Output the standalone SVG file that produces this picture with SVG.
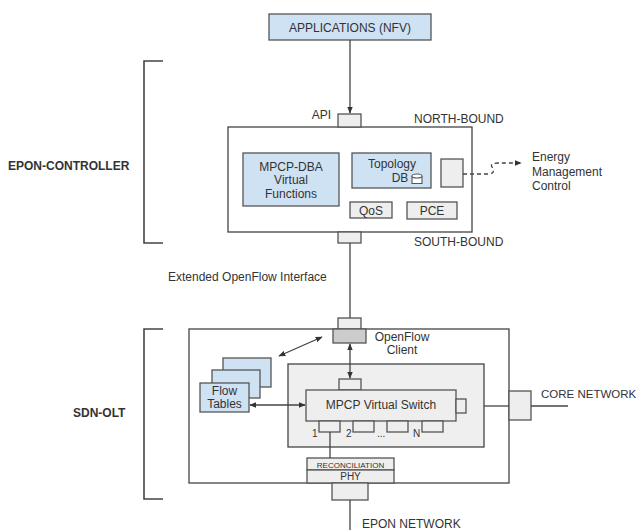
<svg xmlns="http://www.w3.org/2000/svg" width="638" height="530" viewBox="0 0 638 530">
  <defs>
    <marker id="ah" viewBox="0 0 10 10" refX="9" refY="5" markerWidth="7" markerHeight="7" orient="auto-start-reverse" markerUnits="userSpaceOnUse">
      <path d="M0,1 L10,5 L0,9 z" fill="#333"/>
    </marker>
  </defs>
  <style>
    text { font-family: "Liberation Sans", Arial, sans-serif; fill: #333; }
    .t12 { font-size: 12px; }
    .b12 { font-size: 12px; font-weight: bold; }
    .blue { fill: #cfe2f3; stroke: #555; stroke-width: 1.3; }
    .white { fill: #fff; stroke: #444; stroke-width: 1.3; }
    .gray { fill: #eeeeee; stroke: #555; stroke-width: 1.3; }
    .dark { fill: #cccccc; stroke: #555; stroke-width: 1.3; }
    .line { fill: none; stroke: #444; stroke-width: 1.3; }
    .brace { fill: none; stroke: #444; stroke-width: 1.6; }
  </style>
  <rect width="638" height="530" fill="#fff"/>

  <!-- side labels with brackets -->
  <g id="epon-controller-label">
    <path class="brace" d="M163,61 H144 V243 H163"/>
    <text class="b12" x="8" y="170">EPON-CONTROLLER</text>
  </g>
  <g id="sdn-olt-label">
    <path class="brace" d="M163,329 H144 V499 H163"/>
    <text class="b12" x="73" y="417">SDN-OLT</text>
  </g>

  <!-- applications -->
  <g id="applications">
    <rect class="blue" x="269" y="14" width="162" height="26"/>
    <text class="t12" x="350" y="31.5" text-anchor="middle">APPLICATIONS (NFV)</text>
  </g>

  <!-- controller -->
  <g id="controller">
    <rect class="white" x="228" y="127" width="244" height="105"/>
    <rect class="gray" x="338" y="114" width="23" height="13"/>
    <rect class="gray" x="338" y="232" width="23" height="11"/>
    <text class="t12" x="331" y="119" text-anchor="end">API</text>
    <text class="t12" x="414" y="123">NORTH-BOUND</text>
    <text class="t12" x="414" y="246">SOUTH-BOUND</text>
  </g>
  <g id="mpcp-dba">
    <rect class="blue" x="243" y="153" width="96" height="53"/>
    <text class="t12" x="291" y="171" text-anchor="middle">MPCP-DBA</text>
    <text class="t12" x="291" y="184" text-anchor="middle">Virtual</text>
    <text class="t12" x="291" y="198" text-anchor="middle">Functions</text>
  </g>
  <g id="topology-db">
    <rect class="blue" x="352" y="153" width="79" height="35"/>
    <text class="t12" x="392" y="168" text-anchor="middle">Topology</text>
    <text class="t12" x="400" y="182" text-anchor="middle">DB</text>
    <path d="M412,176 V183.5 H422 V176" fill="#fff" stroke="#555" stroke-width="1.1"/>
    <ellipse cx="417" cy="176" rx="5" ry="2" fill="#fff" stroke="#555" stroke-width="1.1"/>
  </g>
  <g id="energy-port">
    <rect class="gray" x="441" y="159" width="22" height="28"/>
  </g>
  <g id="qos">
    <rect class="gray" x="350" y="202" width="42" height="16"/>
    <text class="t12" x="371" y="214.5" text-anchor="middle">QoS</text>
  </g>
  <g id="pce">
    <rect class="gray" x="407" y="202" width="50" height="17"/>
    <text class="t12" x="432" y="215" text-anchor="middle">PCE</text>
  </g>
  <g id="energy-label">
    <text class="t12" x="532" y="161">Energy</text>
    <text class="t12" x="532" y="176">Management</text>
    <text class="t12" x="532" y="190">Control</text>
  </g>

  <text class="t12" x="168" y="281">Extended OpenFlow Interface</text>

  <!-- SDN-OLT -->
  <g id="sdn-olt">
    <rect class="white" x="189" y="329" width="320" height="154"/>
  </g>
  <g id="openflow-client">
    <rect class="gray" x="338" y="318" width="23" height="11"/>
    <rect class="dark" x="333" y="329" width="33" height="14"/>
    <text class="t12" x="402" y="341" text-anchor="middle">OpenFlow</text>
    <text class="t12" x="402" y="354" text-anchor="middle">Client</text>
  </g>
  <g id="flow-tables">
    <rect class="blue" x="223" y="358" width="48" height="29"/>
    <rect class="blue" x="212" y="370" width="48" height="28"/>
    <rect class="blue" x="200" y="383" width="49" height="29"/>
    <text class="t12" x="224.5" y="395" text-anchor="middle">Flow</text>
    <text class="t12" x="224.5" y="408" text-anchor="middle">Tables</text>
  </g>
  <g id="switch-area">
    <rect x="288" y="364" width="196" height="83" fill="#efefef" stroke="#444" stroke-width="1.3"/>
  </g>
  <g id="mpcp-virtual-switch">
    <rect class="gray" x="339" y="379" width="22" height="11"/>
    <rect class="gray" x="306" y="390" width="150" height="31"/>
    <rect class="gray" x="456" y="399" width="10" height="14"/>
    <text class="t12" x="381" y="409" text-anchor="middle">MPCP Virtual Switch</text>
    <rect class="gray" x="319" y="421" width="21" height="11"/>
    <rect class="gray" x="353" y="421" width="21" height="11"/>
    <rect class="gray" x="387" y="421" width="21" height="11"/>
    <rect class="gray" x="422" y="421" width="21" height="11"/>
    <text x="312" y="437" style="font-size:10px">1</text>
    <text x="346" y="437" style="font-size:10px">2</text>
    <text x="377" y="437" style="font-size:10px">...</text>
    <text x="413" y="437" style="font-size:10px">N</text>
  </g>
  <g id="phy">
    <rect class="gray" x="307" y="458" width="87" height="12"/>
    <rect class="gray" x="307" y="470" width="87" height="13"/>
    <text x="350.5" y="467.5" text-anchor="middle" style="font-size:8px">RECONCILIATION</text>
    <text x="350.5" y="480" text-anchor="middle" style="font-size:10px">PHY</text>
    <rect class="gray" x="332" y="483" width="36" height="17"/>
  </g>
  <g id="core-port">
    <rect class="gray" x="509" y="391" width="22" height="29"/>
    <text x="541" y="398" style="font-size:11.5px">CORE NETWORK</text>
  </g>
  <text class="t12" x="362" y="528">EPON NETWORK</text>

  <!-- connectors -->
  <g id="connectors">
    <path class="line" d="M350,40 V113" marker-end="url(#ah)"/>
    <path class="line" d="M350,243 V318"/>
    <path class="line" d="M350,344 V378" marker-start="url(#ah)" marker-end="url(#ah)"/>
    <path class="line" d="M279,356 L322,337" marker-start="url(#ah)" marker-end="url(#ah)"/>
    <path class="line" d="M250,405 H305" marker-start="url(#ah)" marker-end="url(#ah)"/>
    <path class="line" d="M330,432 V458"/>
    <path class="line" d="M350,500 V530"/>
    <path class="line" d="M484,406 H509"/>
    <path class="line" d="M531,406 H568"/>
    <path class="line" d="M463,174 H488 C495,174 494,170 492,167 C490,164 494,163 498,163 H521" stroke-dasharray="4,3" marker-end="url(#ah)"/>
  </g>
</svg>
